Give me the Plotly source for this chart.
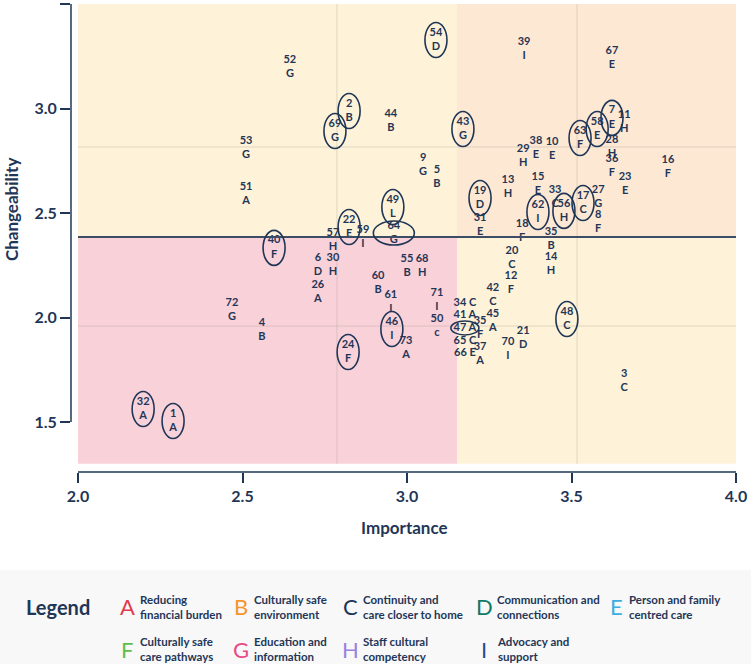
import plotly.graph_objects as go

# ---------------- data ----------------
ids = [1, 2, 3, 4, 5, 6, 7, 8, 9, 10, 11, 12, 13, 14, 15, 16, 17, 18, 19, 20,
       21, 22, 23, 24, 26, 27, 28, 29, 30, 31, 32, 33, 34, 35, 35, 36, 37, 38, 39, 40,
       41, 42, 43, 44, 45, 46, 47, 48, 49, 50, 51, 52, 53, 54, 55, 56, 57, 58, 59, 60,
       61, 62, 63, 64, 65, 66, 67, 68, 69, 70, 71, 72, 73]
letters = ["A", "B", "C", "B", "B", "D", "E", "F", "G", "E", "H", "F", "H", "H", "E", "F", "C", "F", "D", "C",
           "D", "E", "E", "F", "A", "G", "H", "H", "H", "E", "A", "C", "C", "B", "F", "F", "A", "E", "I", "F",
           "A", "C", "G", "B", "A", "I", "A", "C", "L", "c", "A", "G", "G", "D", "B", "H", "H", "E", "I", "B",
           "I", "I", "F", "G", "C", "E", "E", "H", "G", "I", "I", "G", "A"]
importance = [2.289, 2.824, 3.660, 2.559, 3.091, 2.729, 3.623, 3.581, 3.049, 3.441,
              3.660, 3.316, 3.307, 3.438, 3.398, 3.793, 3.535, 3.350, 3.222, 3.319,
              3.353, 2.824, 3.663, 2.821, 2.729, 3.581, 3.623, 3.353, 2.775, 3.222,
              2.198, 3.450, 3.176, 3.438, 3.222, 3.623, 3.222, 3.392, 3.356, 2.596,
              3.176, 3.261, 3.170, 2.951, 3.261, 2.954, 3.176, 3.486, 2.957, 3.091,
              2.511, 2.644, 2.511, 3.088, 3.000, 3.477, 2.775, 3.578, 2.866, 2.912,
              2.951, 3.398, 3.526, 2.960, 3.176, 3.176, 3.623, 3.046, 2.781, 3.307,
              3.091, 2.468, 2.997]
changeability = [1.505, 2.988, 1.696, 1.940, 2.672, 2.251, 2.955, 2.457, 2.730, 2.806,
                 2.935, 2.165, 2.624, 2.256, 2.639, 2.720, 2.548, 2.414, 2.572, 2.285,
                 1.902, 2.433, 2.639, 1.835, 2.122, 2.577, 2.816, 2.773, 2.251, 2.443,
                 1.562, 2.577, 2.069, 2.376, 1.950, 2.725, 1.825, 2.811, 3.285, 2.333,
                 2.012, 2.108, 2.902, 2.940, 1.983, 1.945, 1.950, 1.993, 2.529, 1.959,
                 2.591, 3.199, 2.811, 3.328, 2.246, 2.510, 2.371, 2.902, 2.385, 2.165,
                 2.074, 2.505, 2.859, 2.404, 1.888, 1.830, 3.242, 2.246, 2.892, 1.849,
                 2.084, 2.036, 1.854]
circled = [1, 2, 7, 17, 19, 22, 24, 32, 40, 43, 46, 48, 49, 54, 56, 58, 62, 63, 64, 69, 47]
wide_ellipse = [64]
flat_ellipse = [47]
inline_labels = [34, 41, 47, 65, 66]

x_split = 3.152
y_split = 2.385
ref_x = [2.787, 3.517]
ref_y = [2.816, 1.959]
y_floor = 1.30

x_ticks = [2.0, 2.5, 3.0, 3.5, 4.0]
y_ticks = [1.5, 2.0, 2.5, 3.0, 3.5]

legend_letters = ["A", "B", "C", "D", "E", "F", "G", "H", "I"]
legend_labels = ["Reducing<br>financial burden", "Culturally safe<br>environment",
                 "Continuity and<br>care closer to home", "Communication and<br>connections",
                 "Person and family<br>centred care", "Culturally safe<br>care pathways",
                 "Education and<br>information", "Staff cultural<br>competency", "Advocacy and<br>support"]
legend_colors = ["#e03a4e", "#f5962a", "#1d3557", "#0f7a66", "#3aaee0",
                 "#5cbf4a", "#e84a85", "#9a82de", "#1f4f96"]

# ---------------- style ----------------
NAVY = "#1f3657"
FONT = "Lato, Roboto, sans-serif"
W, H = 751, 664
L, R, T, B = 71, 15, 4, 192
PW, PH = W - L - R, H - T - B


def px2paper(px, py):
    return (px - L) / PW, (H - B - py) / PH


fig = go.Figure()

shapes = []
quads = [
    (2.0, x_split, y_split, 3.5, "#fef3d8"),
    (x_split, 4.0, y_split, 3.5, "#fde8d3"),
    (2.0, x_split, y_floor, y_split, "#f9d1d9"),
    (x_split, 4.0, y_floor, y_split, "#fef3d8"),
]
for x0, x1, y0, y1, c in quads:
    shapes.append(dict(type="rect", xref="x", yref="y", x0=x0, x1=x1, y0=y0, y1=y1,
                       fillcolor=c, line=dict(width=0), layer="below"))
for rx in ref_x:
    shapes.append(dict(type="line", xref="x", yref="y", x0=rx, x1=rx, y0=y_floor, y1=3.5,
                       line=dict(color="rgba(170,160,150,0.35)", width=1), layer="below"))
for ry in ref_y:
    shapes.append(dict(type="line", xref="x", yref="y", x0=2.0, x1=4.0, y0=ry, y1=ry,
                       line=dict(color="rgba(170,160,150,0.35)", width=1), layer="below"))
shapes.append(dict(type="line", xref="x", yref="y", x0=2.0, x1=4.0, y0=y_split, y1=y_split,
                   line=dict(color="#3e4d66", width=2)))
# axis lines
shapes.append(dict(type="line", xref="x", yref="paper", x0=x_ticks[0], x1=x_ticks[-1], y0=0, y1=0,
                   line=dict(color=NAVY, width=1.5)))
shapes.append(dict(type="line", xref="paper", yref="y", x0=0, x1=0, y0=y_ticks[0], y1=y_ticks[-1],
                   line=dict(color=NAVY, width=1.5)))

# ellipses around highlighted items
for i, n in enumerate(ids):
    if n in circled:
        if n in wide_ellipse:
            hw, hh = 20.5, 12
        elif n in flat_ellipse:
            hw, hh = 14, 7
        else:
            hw, hh = 11, 17.5
        shapes.append(dict(type="circle", xref="x", yref="y",
                           xsizemode="pixel", ysizemode="pixel",
                           xanchor=importance[i], yanchor=changeability[i],
                           x0=-hw, x1=hw, y0=-hh, y1=hh,
                           line=dict(color=NAVY, width=1.6)))

# legend box
bx0, by0 = px2paper(0, 570)
bx1, by1 = px2paper(W, H)
shapes.append(dict(type="rect", xref="paper", yref="paper", x0=bx0, x1=bx1, y0=by1, y1=by0,
                   fillcolor="#f8f8f8", line=dict(width=0), layer="below"))

texts = []
for n, l in zip(ids, letters):
    if n in inline_labels:
        texts.append(f"{n} {l}")
    else:
        texts.append(f"{n}<br>{l}")

fig.add_trace(go.Scatter(
    x=importance, y=changeability, mode="text", text=texts,
    textposition="middle center",
    textfont=dict(family=FONT, size=11, color=NAVY, weight="bold"),
    cliponaxis=False, hoverinfo="skip", showlegend=False))

annotations = []
ix, iy = px2paper(404, 527)
annotations.append(dict(text="<b>Importance</b>", x=ix, y=iy, xref="paper", yref="paper",
                        xanchor="center", yanchor="middle",
                        showarrow=False, font=dict(family=FONT, size=17, color=NAVY)))
cx, cy = px2paper(11, 210)
annotations.append(dict(text="<b>Changeability</b>", x=cx, y=cy, xref="paper", yref="paper",
                        xanchor="center", yanchor="middle",
                        showarrow=False, textangle=-90, font=dict(family=FONT, size=17, color=NAVY)))
lx, ly = px2paper(24, 607)
annotations.append(dict(text="<b>Legend</b>", x=lx, y=ly, xref="paper", yref="paper",
                        xanchor="left", yanchor="middle", showarrow=False,
                        font=dict(family=FONT, size=20, color=NAVY)))
col_px = [127, 241, 350, 484, 616]
row_py = [607, 649]
for k, (let, lab, col) in enumerate(zip(legend_letters, legend_labels, legend_colors)):
    r, c = divmod(k, 5)
    ax_, ay_ = px2paper(col_px[c], row_py[r])
    annotations.append(dict(text=let, x=ax_, y=ay_, xref="paper", yref="paper",
                            xanchor="center", yanchor="middle", showarrow=False,
                            font=dict(family=FONT, size=22, color=col)))
    tx_, ty_ = px2paper(col_px[c] + 11, row_py[r])
    annotations.append(dict(text=lab, x=tx_, y=ty_, xref="paper", yref="paper",
                            xanchor="left", yanchor="middle", align="left", showarrow=False,
                            font=dict(family=FONT, size=11.5, color=NAVY, weight="bold")))

fig.update_layout(
    width=W, height=H, margin=dict(l=L, r=R, t=T, b=B, autoexpand=False),
    paper_bgcolor="white", plot_bgcolor="white",
    shapes=shapes, annotations=annotations, showlegend=False,
    xaxis=dict(range=[2.0 - 7 / 329, 4.0], tickvals=x_ticks, ticktext=[f"{v:.1f}" for v in x_ticks],
               ticks="outside", ticklen=10, tickwidth=1.5, tickcolor=NAVY,
               showgrid=False, zeroline=False, showline=False,
               tickfont=dict(family=FONT, size=16, color=NAVY, weight="bold")),
    yaxis=dict(range=[3.5 - 468 / 209, 3.5], tickvals=y_ticks, ticktext=[f"{v:.1f}" for v in y_ticks],
               ticks="outside", ticklen=10, tickwidth=1.5, tickcolor=NAVY,
               showgrid=False, zeroline=False, showline=False,
               tickfont=dict(family=FONT, size=16, color=NAVY, weight="bold")),
)

fig.write_html("out.html")
